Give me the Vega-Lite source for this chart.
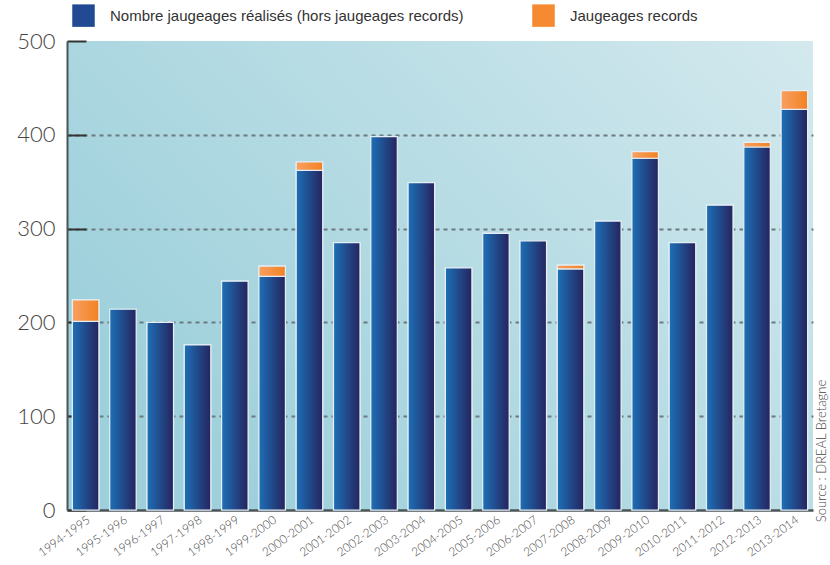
{
  "$schema": "https://vega.github.io/schema/vega-lite/v6.json",
  "autosize": "none",
  "width": 746,
  "height": 469,
  "padding": {"left": 67, "top": 41, "right": 17, "bottom": 55},
  "background": "#ffffff",
  "title": {
    "text": "Source : DREAL Bretagne",
    "orient": "right",
    "anchor": "end",
    "angle": -90,
    "align": "left",
    "baseline": "bottom",
    "offset": 3,
    "dx": 36,
    "fontSize": 13,
    "font": "Lato",
    "fontWeight": 300,
    "color": "#444444"
  },
  "config": {
    "view": {
      "stroke": null,
      "fill": {
        "gradient": "linear",
        "x1": 0, "y1": 0.6, "x2": 1, "y2": 0,
        "stops": [
          {"offset": 0, "color": "#9dd0db"},
          {"offset": 1, "color": "#d3e9ee"}
        ]
      }
    }
  },
  "data": {
    "values": [
      {"saison": "1994-1995", "serie": "Nombre jaugeages réalisés (hors jaugeages records)", "valeur": 201, "ord": 1},
      {"saison": "1994-1995", "serie": "Jaugeages records", "valeur": 23, "ord": 2},
      {"saison": "1995-1996", "serie": "Nombre jaugeages réalisés (hors jaugeages records)", "valeur": 214, "ord": 1},
      {"saison": "1996-1997", "serie": "Nombre jaugeages réalisés (hors jaugeages records)", "valeur": 200, "ord": 1},
      {"saison": "1997-1998", "serie": "Nombre jaugeages réalisés (hors jaugeages records)", "valeur": 176, "ord": 1},
      {"saison": "1998-1999", "serie": "Nombre jaugeages réalisés (hors jaugeages records)", "valeur": 244, "ord": 1},
      {"saison": "1999-2000", "serie": "Nombre jaugeages réalisés (hors jaugeages records)", "valeur": 249, "ord": 1},
      {"saison": "1999-2000", "serie": "Jaugeages records", "valeur": 11, "ord": 2},
      {"saison": "2000-2001", "serie": "Nombre jaugeages réalisés (hors jaugeages records)", "valeur": 362, "ord": 1},
      {"saison": "2000-2001", "serie": "Jaugeages records", "valeur": 9, "ord": 2},
      {"saison": "2001-2002", "serie": "Nombre jaugeages réalisés (hors jaugeages records)", "valeur": 285, "ord": 1},
      {"saison": "2002-2003", "serie": "Nombre jaugeages réalisés (hors jaugeages records)", "valeur": 398, "ord": 1},
      {"saison": "2003-2004", "serie": "Nombre jaugeages réalisés (hors jaugeages records)", "valeur": 349, "ord": 1},
      {"saison": "2004-2005", "serie": "Nombre jaugeages réalisés (hors jaugeages records)", "valeur": 258, "ord": 1},
      {"saison": "2005-2006", "serie": "Nombre jaugeages réalisés (hors jaugeages records)", "valeur": 295, "ord": 1},
      {"saison": "2006-2007", "serie": "Nombre jaugeages réalisés (hors jaugeages records)", "valeur": 287, "ord": 1},
      {"saison": "2007-2008", "serie": "Nombre jaugeages réalisés (hors jaugeages records)", "valeur": 257, "ord": 1},
      {"saison": "2007-2008", "serie": "Jaugeages records", "valeur": 4, "ord": 2},
      {"saison": "2008-2009", "serie": "Nombre jaugeages réalisés (hors jaugeages records)", "valeur": 308, "ord": 1},
      {"saison": "2009-2010", "serie": "Nombre jaugeages réalisés (hors jaugeages records)", "valeur": 375, "ord": 1},
      {"saison": "2009-2010", "serie": "Jaugeages records", "valeur": 7, "ord": 2},
      {"saison": "2010-2011", "serie": "Nombre jaugeages réalisés (hors jaugeages records)", "valeur": 285, "ord": 1},
      {"saison": "2011-2012", "serie": "Nombre jaugeages réalisés (hors jaugeages records)", "valeur": 325, "ord": 1},
      {"saison": "2012-2013", "serie": "Nombre jaugeages réalisés (hors jaugeages records)", "valeur": 387, "ord": 1},
      {"saison": "2012-2013", "serie": "Jaugeages records", "valeur": 5, "ord": 2},
      {"saison": "2013-2014", "serie": "Nombre jaugeages réalisés (hors jaugeages records)", "valeur": 427, "ord": 1},
      {"saison": "2013-2014", "serie": "Jaugeages records", "valeur": 20, "ord": 2}
    ]
  },
  "encoding": {
    "x": {
      "field": "saison",
      "type": "nominal",
      "sort": null,
      "title": null,
      "scale": {"paddingInner": 0.29, "paddingOuter": 0.145},
      "axis": {
        "labelAngle": -36,
        "labelFont": "Lato",
        "labelFontWeight": 300,
        "labelFontSize": 12,
        "labelColor": "#444444",
        "labelPadding": 4,
        "ticks": false,
        "domainColor": "#4a5558",
        "domainWidth": 2.5
      }
    },
    "y": {
      "field": "valeur",
      "type": "quantitative",
      "stack": "zero",
      "title": null,
      "scale": {"domain": [0, 500], "nice": false},
      "axis": {
        "values": [0, 100, 200, 300, 400, 500],
        "labelFont": "Lato",
        "labelFontWeight": 300,
        "labelFontSize": 22,
        "labelColor": "#444444",
        "labelPadding": 31,
        "tickSize": -19,
        "tickColor": "#333333",
        "tickWidth": 2,
        "domainColor": "#4a5558",
        "domainWidth": 2,
        "grid": true,
        "gridColor": "#6b7a7f",
        "gridWidth": 1.8,
        "gridDash": [4, 4],
        "gridOpacity": {"condition": {"test": "datum.value > 0 && datum.value < 500", "value": 1}, "value": 0}
      }
    },
    "order": {"field": "ord", "type": "quantitative"}
  },
  "layer": [
    {
      "mark": {"type": "bar", "stroke": "#e4eef4", "strokeWidth": 1.2},
      "encoding": {
        "color": {
          "field": "serie",
          "type": "nominal",
          "title": null,
          "scale": {
            "domain": ["Nombre jaugeages réalisés (hors jaugeages records)", "Jaugeages records"],
            "range": ["#214a92", "#f58a30"]
          },
          "legend": {
            "orient": "none",
            "legendX": 5,
            "legendY": -37,
            "direction": "horizontal",
            "padding": 0,
            "symbolType": "square",
            "symbolSize": 506,
            "symbolStrokeWidth": 0,
            "symbolOpacity": 1,
            "labelFont": "Liberation Sans",
            "labelFontSize": 15,
            "labelColor": "#333333",
            "labelOffset": 15,
            "labelLimit": 0,
            "columnPadding": 68
          }
        }
      }
    },
    {
      "mark": {"type": "bar", "stroke": "#e4eef4", "strokeWidth": 1.2},
      "encoding": {
        "detail": {"field": "serie", "type": "nominal"},
        "fill": {
          "condition": {
            "test": "datum.ord === 2",
            "value": {"gradient": "linear", "x1": 0, "y1": 0, "x2": 1, "y2": 0, "stops": [{"offset": 0, "color": "#f8a062"}, {"offset": 1, "color": "#f28221"}]}
          },
          "value": {"gradient": "linear", "x1": 0, "y1": 0, "x2": 1, "y2": 0, "stops": [{"offset": 0, "color": "#1d70b7"}, {"offset": 1, "color": "#25245e"}]}
        }
      }
    }
  ]
}
